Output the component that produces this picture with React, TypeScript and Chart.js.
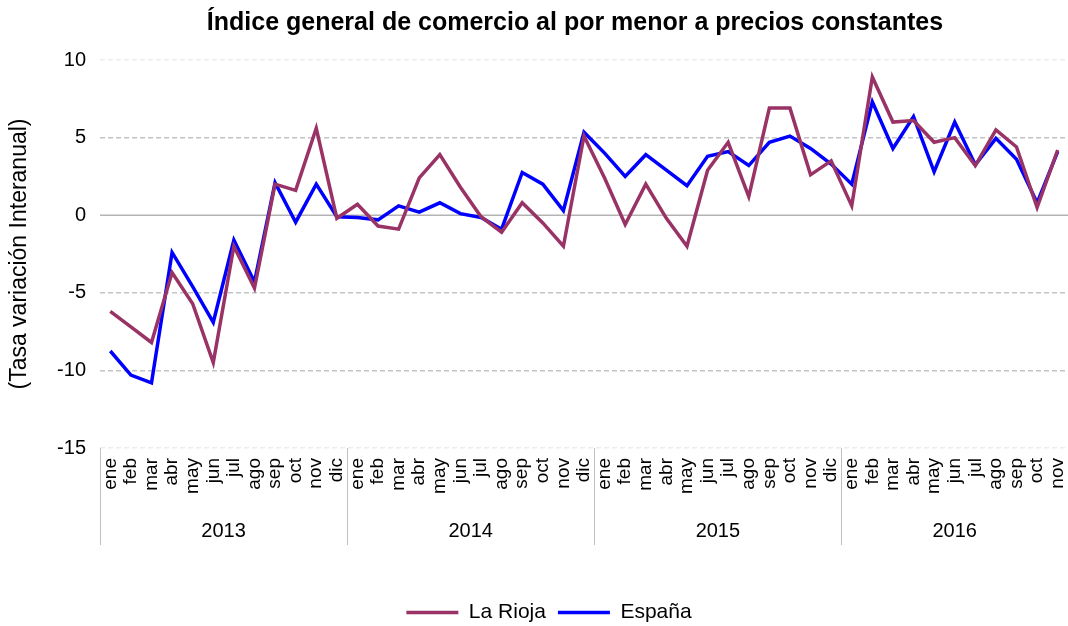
import React, { useEffect, useRef } from "react";
import { Chart, registerables } from "chart.js";

Chart.register(...registerables);

const months = ["ene", "feb", "mar", "abr", "may", "jun", "jul", "ago", "sep", "oct", "nov", "dic"];
const years = ["2013", "2014", "2015", "2016"];
const monthsPerYear = [12, 12, 12, 11];

const categories: string[] = [];
years.forEach((_, yi) => {
  for (let m = 0; m < monthsPerYear[yi]; m++) categories.push(months[m]);
});

const laRioja = [
  -6.2, -7.2, -8.2, -3.7, -5.7, -9.5, -2.0, -4.7, 2.0, 1.6, 5.6, -0.2,
  0.7, -0.7, -0.9, 2.4, 3.9, 1.8, -0.1, -1.1, 0.8, -0.5, -2.0, 5.1,
  2.4, -0.6, 2.0, -0.2, -2.0, 2.9, 4.7, 1.2, 6.9, 6.9, 2.6, 3.5,
  0.6, 8.9, 6.0, 6.1, 4.7, 5.0, 3.2, 5.5, 4.4, 0.5, 4.2,
];

const espana = [
  -8.75, -10.3, -10.8, -2.4, -4.6, -6.9, -1.6, -4.3, 2.1, -0.45, 2.0, -0.1,
  -0.15, -0.3, 0.6, 0.2, 0.8, 0.1, -0.15, -0.9, 2.75, 2.0, 0.3, 5.35,
  4.0, 2.5, 3.9, 2.9, 1.9, 3.8, 4.1, 3.2, 4.7, 5.1, 4.3, 3.3,
  2.0, 7.3, 4.3, 6.35, 2.8, 6.0, 3.25, 4.95, 3.6, 0.8, 4.1,
];

const yTicks = [-15, -10, -5, 0, 5, 10];

const titleText = "Índice general de comercio al por menor a precios constantes";
const yTitle = "(Tasa variación Interanual)";
const FONT = "'Liberation Sans', Arial, sans-serif";

const decorPlugin = {
  id: "decor",
  afterLayout(chart: any) {
    const lg = chart.legend;
    if (lg) {
      lg.left += 15;
      lg.right += 15;
      lg.top += 11;
      lg.bottom += 11;
    }
  },
  beforeDatasetsDraw(chart: any) {
    const { ctx, chartArea } = chart;
    const y = chart.scales.y.getPixelForValue(0);
    ctx.save();
    ctx.strokeStyle = "#b4b4b4";
    ctx.lineWidth = 1.5;
    ctx.beginPath();
    ctx.moveTo(chartArea.left, y);
    ctx.lineTo(chartArea.right, y);
    ctx.stroke();
    ctx.restore();
  },
  afterDraw(chart: any) {
    const { ctx, chartArea } = chart;
    const xs = chart.scales.x;
    ctx.save();
    // title
    ctx.fillStyle = "#000";
    ctx.font = `bold 25px ${FONT}`;
    ctx.textAlign = "center";
    ctx.textBaseline = "middle";
    ctx.fillText(titleText, (chartArea.left + chartArea.right) / 2 - 9, 23);
    // year groups
    const half = (xs.getPixelForValue(1) - xs.getPixelForValue(0)) / 2;
    let start = 0;
    ctx.strokeStyle = "#c0c0c0";
    ctx.lineWidth = 1;
    ctx.font = `20px ${FONT}`;
    years.forEach((yr, yi) => {
      const end = start + monthsPerYear[yi] - 1;
      const left = xs.getPixelForValue(start) - half;
      ctx.beginPath();
      ctx.moveTo(Math.round(left) + 0.5, chartArea.bottom);
      ctx.lineTo(Math.round(left) + 0.5, chartArea.bottom + 97);
      ctx.stroke();
      const cx = (xs.getPixelForValue(start) + xs.getPixelForValue(end)) / 2;
      ctx.fillText(yr, cx, chartArea.bottom + 83);
      start = end + 1;
    });
    ctx.restore();
  },
};

export default function App() {
  const ref = useRef<HTMLCanvasElement>(null);
  useEffect(() => {
    if (!ref.current) return;
    const chart = new Chart(ref.current, {
      type: "line",
      data: {
        labels: categories,
        datasets: [
          {
            label: "La Rioja",
            data: laRioja,
            borderColor: "#993366",
            backgroundColor: "#993366",
            borderWidth: 3.5,
            pointRadius: 0,
            tension: 0,
          },
          {
            label: "España",
            data: espana,
            borderColor: "#0000ff",
            backgroundColor: "#0000ff",
            borderWidth: 3.5,
            pointRadius: 0,
            tension: 0,
          },
        ],
      },
      options: {
        animation: false,
        responsive: true,
        maintainAspectRatio: false,
        layout: { padding: { top: 60, left: 0, right: 0, bottom: 4 } },
        plugins: {
          title: { display: false },
          tooltip: { enabled: false },
          legend: {
            position: "bottom",
            labels: {
              usePointStyle: true,
              pointStyle: "line",
              pointStyleWidth: 52,
              color: "#000",
              font: { family: FONT, size: 21 },
              padding: 12,
            },
          },
        },
        scales: {
          x: {
            offset: true,
            grid: { display: false },
            border: { display: false },
            ticks: {
              autoSkip: false,
              maxRotation: 90,
              minRotation: 90,
              color: "#000",
              padding: 2,
              font: { family: FONT, size: 19 },
            },
            afterFit(scale: any) {
              scale.height = 97 + 34;
              scale.paddingLeft = 0;
              scale.paddingRight = 0;
            },
          },
          y: {
            min: -15,
            max: 10,
            afterBuildTicks(scale: any) {
              scale.ticks = yTicks.map((v) => ({ value: v }));
            },
            grid: {
              drawTicks: false,
              lineWidth: 1.5,
              color: (c: any) => {
                const v = c.tick && c.tick.value;
                if (v === 0) return "rgba(0,0,0,0)";
                if (v === 10 || v === -15) return "#ececec";
                return "#c4c4c4";
              },
            },
            border: { display: false, dash: [5, 3] },
            ticks: {
              color: "#000",
              padding: 14,
              font: { family: FONT, size: 20 },
            },
            title: {
              display: true,
              text: yTitle,
              color: "#000",
              font: { family: FONT, size: 23 },
              padding: { top: 6, bottom: 0 },
            },
            afterFit(scale: any) {
              scale.width = 100;
            },
          },
        },
      },
      plugins: [decorPlugin],
    });
    return () => chart.destroy();
  }, []);
  return (
    <div style={{ position: "fixed", left: 0, top: 0, width: 1068, height: 626, background: "#fff" }}>
      <canvas ref={ref} />
    </div>
  );
}
